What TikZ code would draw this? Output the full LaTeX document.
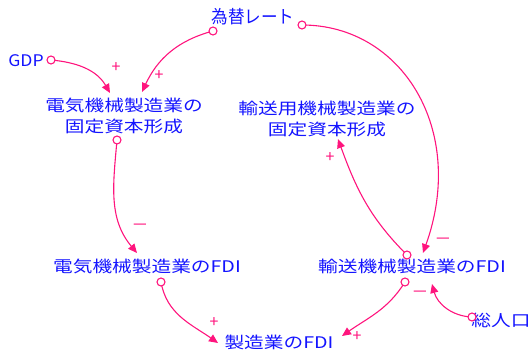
\documentclass[tikz,border=0pt]{standalone}
\usepackage{fontspec}
\setmainfont{Noto Sans CJK JP}
\usetikzlibrary{arrows.meta}
\definecolor{pinkc}{RGB}{255,20,125}
\definecolor{bluec}{RGB}{20,20,255}
\newcommand{\lbl}[1]{\scalebox{1.23}[1]{\fontsize{16}{21}\selectfont\begin{tabular}{@{}c@{}}#1\end{tabular}}}
\newcommand{\wminus}{\scalebox{1.6}[1]{−}}
\begin{document}
\begin{tikzpicture}[x=1pt,y=1pt,
  var/.style={inner sep=0pt, text=bluec},
  lnk/.style={draw=pinkc, line width=1.1pt, -{Triangle[length=9pt,width=8pt]}},
  tailc/.style={circle, draw=pinkc, fill=white, line width=1.1pt, inner sep=0pt, minimum size=8pt},
  pol/.style={text=pinkc, inner sep=0pt, font=\fontsize{16}{16}\selectfont}]
\useasboundingbox (0,0) rectangle (531,362);
% variables
\node[var] (rate) at (253,345) {\scalebox{0.92}[1]{\fontsize{18}{18}\selectfont 為替レート}};
\node[var] (gdp) at (26,301) {\scalebox{1.1}[1]{\fontsize{16}{16}\selectfont GDP}};
\node[var] (ekfc) at (124,244.5) {\lbl{電気機械製造業の\\固定資本形成}};
\node[var] (tkfc) at (327,241) {\lbl{輸送用機械製造業の\\固定資本形成}};
\node[var] (efdi) at (147,94) {\lbl{電気機械製造業のFDI}};
\node[var] (tfdi) at (412,94) {\lbl{輸送機械製造業のFDI}};
\node[var] (mfdi) at (279,17.5) {\lbl{製造業のFDI}};
\node[var] (pop) at (501,40) {\lbl{総人口}};
% link end points
\coordinate (gdpT) at (51,302);
\coordinate (gdpH) at (110,269);
\coordinate (rateT1) at (213,331);
\coordinate (rateH1) at (142,270);
\coordinate (ekfcT) at (117,222);
\coordinate (ekfcH) at (137,109);
\coordinate (efdiT) at (161,80);
\coordinate (efdiH) at (218,19);
\coordinate (rateT2) at (302,337);
\coordinate (rateH2) at (423,109);
\coordinate (tfdiT1) at (407,107);
\coordinate (tfdiH1) at (338,223);
\coordinate (tfdiT2) at (405,80);
\coordinate (tfdiH2) at (342,26);
\coordinate (popT) at (472,45);
\coordinate (popH) at (432,78);
% links
\draw[lnk] (gdpT) to[out=-5,in=120] (gdpH);
\draw[lnk] (rateT1) to[out=195,in=65] (rateH1);
\draw[lnk] (ekfcT) to[out=-95,in=130] (ekfcH);
\draw[lnk] (efdiT) to[out=-80,in=145] (efdiH);
\draw[lnk] (rateT2) .. controls (402,337) and (467,232) .. (rateH2);
\draw[lnk] (tfdiT1) to[out=135,in=-70] (tfdiH1);
\draw[lnk] (tfdiT2) to[out=-122,in=35] (tfdiH2);
\draw[lnk] (popT) to[out=178,in=-75] (popH);
% tail circles
\foreach \t in {gdpT,rateT1,ekfcT,efdiT,rateT2,tfdiT1,tfdiT2,popT}
  \node[tailc] at (\t) {};
% polarities
\node[pol] (p1) at (116,294) {+};
\node[pol] (p2) at (159,286) {+};
\node[pol] (p3) at (140,135) {\wminus};
\node[pol] (p4) at (214,39) {+};
\node[pol] (p5) at (443,121) {\wminus};
\node[pol] (p6) at (330,204) {+};
\node[pol] (p7) at (357,25) {+};
\node[pol] (p8) at (420,68) {\wminus};
\end{tikzpicture}
\end{document}
